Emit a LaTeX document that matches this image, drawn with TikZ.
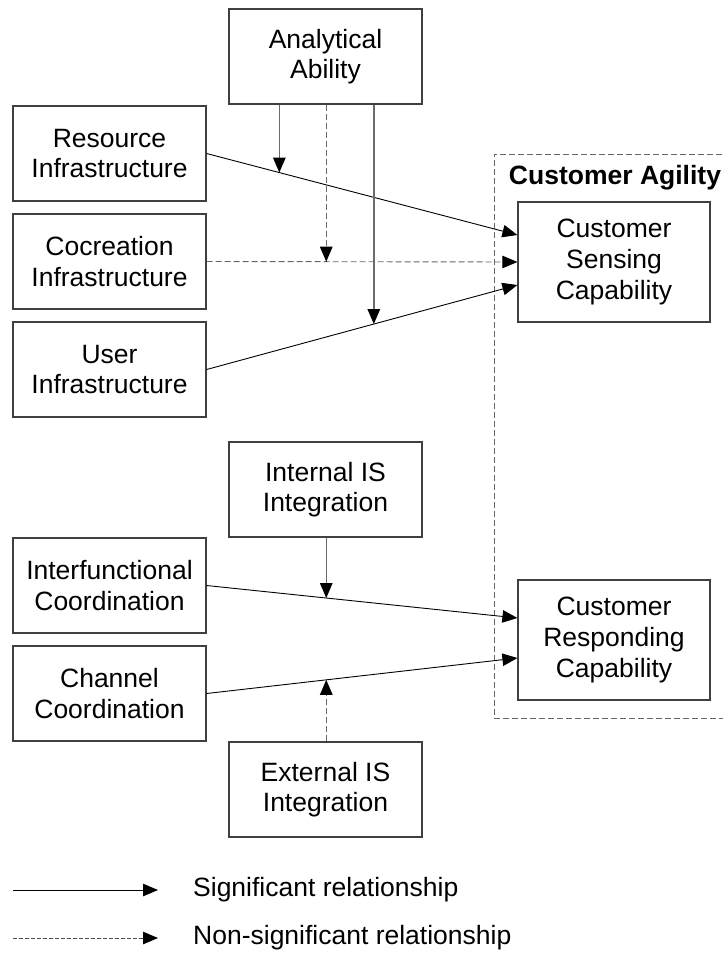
\documentclass[tikz,border=0pt]{standalone}
\usepackage{fontspec}
\setmainfont{Liberation Sans}
\usetikzlibrary{arrows.meta}
\begin{document}
\begin{tikzpicture}[x=1pt,y=-1pt,
  every node/.style={font=\fontsize{26.5}{30.7}\selectfont},
  box/.style={draw=black!75, line width=1.2pt, fill=white, align=center,
    minimum width=193pt, minimum height=95pt, inner sep=0pt},
  bigbox/.style={box, minimum width=192pt, minimum height=120pt},
  tip/.style={-{Triangle[length=15pt,width=12.5pt,color=black]}},
  sig/.style={tip, draw=black, line width=0.9pt},
  nsig/.style={tip, draw=black!60, line width=0.9pt, dash pattern=on 6pt off 3pt},
  modsig/.style={tip, draw=black!58, line width=1.4pt},
  modnsig/.style={tip, draw=black!58, line width=1.4pt, dash pattern=on 6pt off 3pt},
  agility/.style={draw=black!60, line width=1pt, dash pattern=on 6pt off 3pt}]
\useasboundingbox (0,0) rectangle (723,959);

% Customer Agility frame
\draw[agility] (740,154) -- (494,154) -- (494,718) -- (740,718);
\node[font=\fontsize{26.5}{30.7}\selectfont\bfseries] (agil) at (615,178) {Customer Agility};

% Constructs
\node[box] (ana) at (325.5,56.5) {Analytical\\Ability};
\node[box] (res) at (109.5,153.5) {Resource\\Infrastructure};
\node[box] (coc) at (109.5,261.5) {Cocreation\\Infrastructure};
\node[box] (usr) at (109.5,369.5) {User\\Infrastructure};
\node[bigbox] (sens) at (614,262) {Customer\\Sensing\\Capability};

\node[box] (int) at (325.5,489.5) {Internal IS\\Integration};
\node[box] (ifc) at (109.5,585.5) {Interfunctional\\Coordination};
\node[box] (chn) at (109.5,693.5) {Channel\\Coordination};
\node[bigbox] (resp) at (614,640) {Customer\\Responding\\Capability};
\node[box] (ext) at (325.5,789.5) {External IS\\Integration};

% Main effects
\draw[sig]  (res.east) -- coordinate[pos=0.234] (m1) ([yshift=27pt]sens.west);
\draw[nsig] (coc.east) -- coordinate[pos=0.385] (m2) (sens.west);
\draw[sig]  (usr.east) -- coordinate[pos=0.538] (m3) ([yshift=-23pt]sens.west);
\draw[sig]  (ifc.east) -- coordinate[pos=0.385] (m4) ([yshift=22pt]resp.west);
\draw[sig]  (chn.east) -- coordinate[pos=0.385] (m5) ([yshift=-18pt]resp.west);

% Moderating effects
\draw[modsig]  (m1 |- ana.south) -- (m1);
\draw[modnsig] (m2 |- ana.south) -- (m2);
\draw[modsig]  (m3 |- ana.south) -- (m3);
\draw[modsig]  (m4 |- int.south) -- (m4);
\draw[modnsig] (m5 |- ext.north) -- (m5);

% Legend
\coordinate (l1a) at (13,890);
\coordinate (l1b) at (158,890);
\coordinate (l2a) at (13,938);
\coordinate (l2b) at (158,938);
\draw[tip, draw=black, line width=0.9pt] (l1a) -- (l1b);
\draw[tip, draw=black!70, line width=0.9pt, dash pattern=on 4pt off 2pt] (l2a) -- (l2b);
\node[anchor=west, inner sep=0pt] (lt1) at (193,890) {Significant relationship};
\node[anchor=west, inner sep=0pt] (lt2) at (193,938) {Non-significant relationship};
\end{tikzpicture}
\end{document}
